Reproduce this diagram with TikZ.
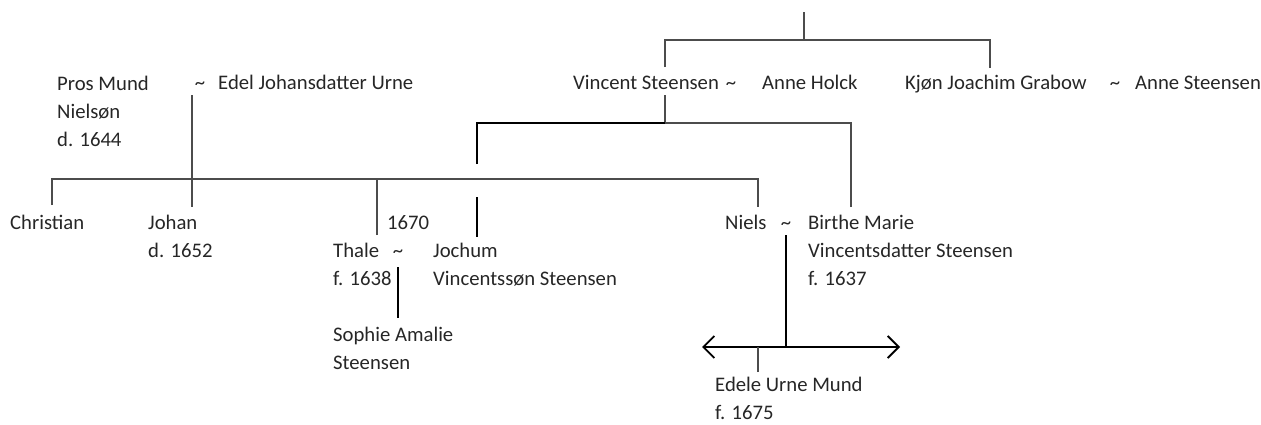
\documentclass[tikz,border=0pt]{standalone}
\usepackage{fontspec}
\setmainfont{Carlito}
\usetikzlibrary{arrows.meta,positioning}

\begin{document}
\begin{tikzpicture}[x=1pt,y=-1pt]
		\tikzstyle{person}=[anchor=base west,inner sep=0pt,align=left,font=\fontsize{20.7}{28}\selectfont,text=black!85]
		\tikzstyle{tilde}=[anchor=base,inner sep=0pt,font=\fontsize{20.7}{28}\selectfont,text=black!85]
		\tikzstyle{link}=[line width=1.3pt,black!70]
		\tikzstyle{strong}=[line width=1.8pt,black]
		\tikzstyle{offspring}=[strong,{Straight Barb[length=11pt,width=22pt]}-{Straight Barb[length=11pt,width=22pt]}]
		
		\useasboundingbox (0,0) rectangle (1261,424);
		
		% top generation (base = last line)
		\node[person] (vincent) at (573,89) {Vincent Steensen};
		\node[tilde] (vtilde) at (731,89) {\textasciitilde};
		\node[person] (anneholck) at (762,89) {Anne Holck};
		\node[person] (kjon) at (905,89) {Kjøn Joachim Grabow};
		\node[tilde] (ktilde) at (1115,89) {\textasciitilde};
		\node[person] (annesteensen) at (1135,89) {Anne Steensen};
		\node[person] (pros) at (57,146) {Pros Mund\\Nielsøn\\d. 1644};
		\node[tilde] (ptilde) at (200,89) {\textasciitilde};
		\node[person] (edel) at (218,89) {Edel Johansdatter Urne};
		
		% children
		\node[person] (christian) at (10,229) {Christian};
		\node[person] (johan) at (148,257) {Johan\\d. 1652};
		\node[person] (year) at (387,229) {1670};
		\node[person] (thale) at (333,285) {Thale\\f. 1638};
		\node[tilde] (ttilde) at (398,257) {\textasciitilde};
		\node[person] (jochum) at (433,285) {Jochum\\Vincentssøn Steensen};
		\node[person] (niels) at (725,229) {Niels};
		\node[tilde] (ntilde) at (786,229) {\textasciitilde};
		\node[person] (birthe) at (808,285) {Birthe Marie\\Vincentsdatter Steensen\\f. 1637};
		
		% grandchildren
		\node[person] (sophie) at (333,369) {Sophie Amalie\\Steensen};
		\node[person] (edele) at (715,419) {Edele Urne Mund\\f. 1675};
		
		% junctions
		\coordinate (top) at (804,12);
		\coordinate (bus0) at (804,40);
		\coordinate (vUp) at (665,67);
		\coordinate (kUp) at (990,68);
		\coordinate (vDown) at (665,95);
		\coordinate (bus1) at (665,123);
		\coordinate (jochumUp) at (477,164);
		\coordinate (birtheUp) at (851,207);
		\coordinate (jochumTop) at (477,197);
		\coordinate (jochumDown) at (477,237);
		\coordinate (mDown) at (192,95);
		\coordinate (bus2) at (192,179);
		\coordinate (johanUp) at (192,207);
		\coordinate (christianUp) at (52,205);
		\coordinate (thaleUp) at (377,235);
		\coordinate (nielsUp) at (758,207);
		\coordinate (tDown) at (398,267);
		\coordinate (sophieUp) at (398,318);
		\coordinate (nDown) at (786,235);
		\coordinate (arrowMid) at (786,347);
		\coordinate (arrowL) at (702,347);
		\coordinate (arrowR) at (900,347);
		\coordinate (edeleUp) at (758,372);
		
		\draw[link] (top) -- (bus0);
		\draw[link] (vUp) |- (bus0) -| (kUp);
		\draw[link] (vDown) -- (bus1);
		\draw[link] (birtheUp) |- (bus1);
		\draw[strong] (jochumUp) |- (bus1);
		\draw[strong] (jochumTop) -- (jochumDown);
		\draw[link] (mDown) -- (johanUp);
		\draw[link] (christianUp) |- (bus2) -| (nielsUp);
		\draw[link] (thaleUp) -- (thaleUp |- bus2);
		\draw[strong] (tDown) -- (sophieUp);
		\draw[strong] (nDown) -- (arrowMid);
		\draw[offspring] (arrowL) -- (arrowR);
		\draw[link] (edeleUp) -- (edeleUp |- arrowMid);
\end{tikzpicture}
\end{document}
